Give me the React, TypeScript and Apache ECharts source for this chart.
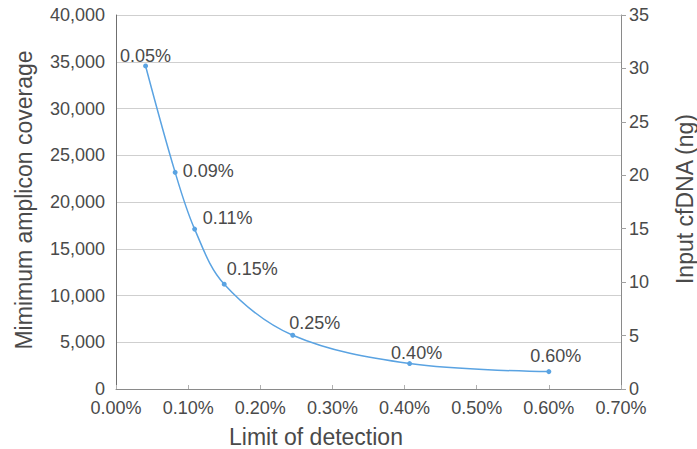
import React, { useEffect, useRef } from "react";
import * as echarts from "echarts";

const lodX = [0.041, 0.082, 0.109, 0.15, 0.245, 0.407, 0.6];
const coverage = [34550, 23170, 17100, 11210, 5750, 2720, 1860];
const pointLabels = ["0.05%", "0.09%", "0.11%", "0.15%", "0.25%", "0.40%", "0.60%"];
const xTitle = "Limit of detection";
const yLeftTitle = "Mimimum amplicon coverage";
const yRightTitle = "Input cfDNA (ng)";

// label offsets (layout only)
const labelOffsets: [number, number][] = [
  [0, 2],
  [33, 10],
  [33, 0],
  [28, -4],
  [22, -1],
  [7, 1],
  [7, -4],
];

const FONT = "Liberation Sans, Helvetica, Arial, sans-serif";
const TEXT = "#4a4a4a";

export default function App() {
  const ref = useRef<HTMLDivElement>(null);
  useEffect(() => {
    if (!ref.current) return;
    const chart = echarts.init(ref.current, null, { renderer: "svg" });
    const data = lodX.map((x, i) => ({
      value: [x, coverage[i]],
      label: {
        show: true,
        formatter: pointLabels[i],
        position: "top",
        distance: 0,
        offset: labelOffsets[i],
      },
    }));
    chart.setOption({
      animation: false,
      backgroundColor: "#ffffff",
      textStyle: { fontFamily: FONT },
      grid: { left: 116, right: 76, top: 15, bottom: 60, containLabel: false },
      xAxis: {
        type: "value",
        min: 0,
        max: 0.7,
        interval: 0.1,
        axisLine: { show: true, lineStyle: { color: "#8a8a8a", width: 1 } },
        axisTick: { show: true, inside: true, length: 4, lineStyle: { color: "#b0b0b0" } },
        splitLine: { show: false },
        axisLabel: {
          color: TEXT,
          fontSize: 18,
          margin: 10,
          fontFamily: FONT,
          formatter: (v: number) => v.toFixed(2) + "%",
        },
      },
      yAxis: [
        {
          type: "value",
          min: 0,
          max: 40000,
          interval: 5000,
          position: "left",
          axisLine: { show: true, lineStyle: { color: "#6f6f6f", width: 1 } },
          axisTick: { show: false },
          splitLine: { show: true, lineStyle: { color: "#cfcfcf", width: 1 } },
          axisLabel: {
            color: TEXT,
            fontSize: 18,
            margin: 11,
            fontFamily: FONT,
            formatter: (v: number) => v.toLocaleString("en-US"),
          },
        },
        {
          type: "value",
          min: 0,
          max: 35,
          interval: 5,
          position: "right",
          axisLine: { show: true, lineStyle: { color: "#8a8a8a", width: 1 } },
          axisTick: { show: true, inside: false, length: 5, lineStyle: { color: "#a0a0a0" } },
          splitLine: { show: false },
          axisLabel: { color: TEXT, fontSize: 18, margin: 8, fontFamily: FONT },
        },
      ],
      series: [
        {
          type: "line",
          yAxisIndex: 0,
          smooth: 0.35,
          data,
          symbol: "circle",
          symbolSize: 5,
          itemStyle: { color: "#5aa3e2" },
          lineStyle: { color: "#5aa3e2", width: 1.5 },
          label: { color: TEXT, fontSize: 18, fontFamily: FONT },
        },
      ],
      graphic: [
        {
          type: "text",
          x: 316,
          y: 437,
          style: {
            text: xTitle,
            fill: TEXT,
            font: `23px ${FONT}`,
            textAlign: "center",
            textVerticalAlign: "middle",
          },
        },
        {
          type: "text",
          x: 24,
          y: 200,
          rotation: Math.PI / 2,
          style: {
            text: yLeftTitle,
            fill: TEXT,
            font: `23px ${FONT}`,
            textAlign: "center",
            textVerticalAlign: "middle",
          },
        },
        {
          type: "text",
          x: 685,
          y: 199,
          rotation: Math.PI / 2,
          style: {
            text: yRightTitle,
            fill: TEXT,
            font: `23px ${FONT}`,
            textAlign: "center",
            textVerticalAlign: "middle",
          },
        },
      ],
    });
    return () => chart.dispose();
  }, []);
  return (
    <div
      ref={ref}
      style={{ position: "fixed", left: 0, top: 0, width: 697, height: 449 }}
    />
  );
}
